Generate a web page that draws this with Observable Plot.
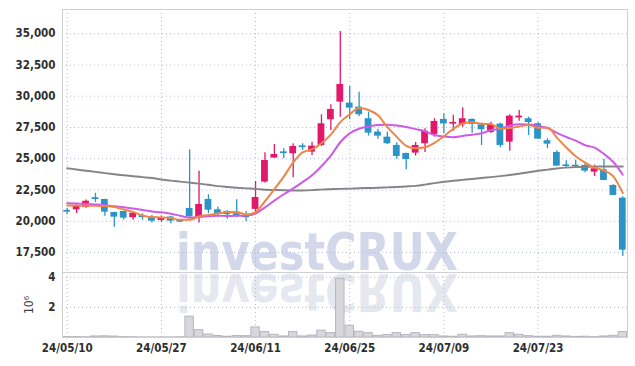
<!DOCTYPE html>
<html><head><meta charset="utf-8">
<script src="https://cdn.jsdelivr.net/npm/d3@7"></script>
<script src="https://cdn.jsdelivr.net/npm/@observablehq/plot@0.6"></script>
<style>
body{margin:0;background:#fff;}
#chart{position:relative;width:635px;height:366px;background:#fff;}
#chart svg{display:block;}
</style></head><body><div id="chart"></div>
<script>
const dates = ["24/05/10","24/05/13","24/05/14","24/05/16","24/05/17","24/05/20","24/05/21","24/05/22","24/05/23","24/05/24",
"24/05/27","24/05/28","24/05/29","24/05/30","24/05/31","24/06/03","24/06/04","24/06/05","24/06/07","24/06/10",
"24/06/11","24/06/12","24/06/13","24/06/14","24/06/17","24/06/18","24/06/19","24/06/20","24/06/21","24/06/24",
"24/06/25","24/06/26","24/06/27","24/06/28","24/07/01","24/07/02","24/07/03","24/07/04","24/07/05","24/07/08",
"24/07/09","24/07/10","24/07/11","24/07/12","24/07/15","24/07/16","24/07/17","24/07/18","24/07/19","24/07/22",
"24/07/23","24/07/24","24/07/25","24/07/26","24/07/29","24/07/30","24/07/31","24/08/01","24/08/02","24/08/05"];
const open = [20870,20910,21100,21880,21740,20700,20785,20280,20440,20340,
20065,20340,20120,21025,20280,21745,20915,20785,20600,20460,
20950,23130,25050,25550,25400,26030,25530,26065,28120,29530,
29450,29130,28200,27130,26730,26065,25425,25450,26200,26945,
28145,27770,27720,28145,27720,27105,27770,26330,28270,28200,
27800,26440,25505,24510,24480,24465,23930,24120,22865,21850];
const high = [21050,21340,21700,22240,21760,20720,20800,20730,20600,20460,
20425,20380,20150,25720,24010,22120,21130,20850,21720,20785,
23180,25480,26140,25800,26200,26200,26330,28520,29320,35185,
30785,30330,28730,27370,27130,26280,25450,26300,27400,28200,
28600,28480,29080,28200,27850,27930,27850,28520,28865,28330,
27880,26600,25640,24840,24890,24600,24490,24970,22920,21960];
const low = [20550,20620,21040,21500,20400,19530,20100,20090,20080,19870,
19930,19800,19880,20225,19860,20600,20360,20170,20300,19985,
20700,23060,25050,25000,23480,25670,25265,25980,27265,28330,
28120,28385,26810,26570,26140,24970,24120,25210,25500,26730,
27020,27200,27530,27040,26065,27020,25880,25610,28010,26865,
26540,25800,24410,24250,24220,23880,23585,23250,22065,17185];
const close = [20730,21200,21600,21740,20730,20330,20250,20640,20300,20010,
20265,20010,19930,20360,21345,20890,20540,20520,20440,20280,
21900,24860,25340,25410,25985,25890,26010,27800,28945,30945,
29050,28520,27050,26810,26200,25185,24945,26065,27210,27985,
27785,27910,28200,27745,27320,27720,26065,28410,28410,27900,
26570,26170,24410,24380,24350,24010,24200,23265,22065,17690];
// volume in millions of shares
const volume = [0.03,0.03,0.02,0.07,0.08,0.06,0.03,0.02,0.01,0.01,
0.01,0.01,0.02,1.38,0.49,0.20,0.10,0.05,0.10,0.09,
0.67,0.36,0.18,0.07,0.36,0.07,0.13,0.45,0.29,3.89,
0.78,0.38,0.29,0.11,0.16,0.29,0.16,0.29,0.16,0.16,
0.07,0.05,0.18,0.07,0.09,0.07,0.07,0.29,0.18,0.09,
0.05,0.05,0.11,0.07,0.04,0.05,0.03,0.07,0.11,0.36];
const ma5 = [21260,21250,21240,21230,21226,21132,20942,20750,20464,20320,
20307,20259,20117,20115,20382,20507,20613,20731,20747,20534,
20736,21600,22564,23570,24711,25517,25747,26239,26934,27926,
28550,29052,28902,28475,27526,26753,26038,25841,25921,26278,
26798,27390,27817,27924,27791,27778,27410,27452,27585,27701,
27471,27492,26692,25894,25194,24682,24288,24059,23588,22246];
const ma10 = [21440,21420,21390,21350,21290,21210,21120,21020,20900,20773,
20720,20601,20434,20290,20351,20407,20436,20424,20431,20458,
20622,21107,21648,22159,22623,23127,23674,24402,25252,26319,
27034,27400,27571,27705,27726,27652,27545,27372,27198,26902,
26776,26714,26829,26923,27035,27288,27400,27635,27755,27746,
27625,27451,27072,26740,26448,26077,25890,25376,24741,23720];
const maLong = [24240,24140,24040,23950,23850,23760,23680,23600,23530,23460,
23340,23250,23170,23090,23010,22920,22810,22740,22680,22630,
22590,22520,22500,22480,22470,22470,22490,22530,22560,22590,
22610,22640,22660,22680,22710,22740,22780,22830,22930,23050,
23160,23240,23310,23380,23460,23530,23610,23700,23800,23920,
24040,24130,24220,24290,24330,24350,24370,24380,24390,24390];
const xTicks = [0,10,20,30,40,50];
const priceTicks = [17500,20000,22500,25000,27500,30000,32500,35000];
const volTicks = [2,4];
const watermark = "investCRUX";

const UP = "#e2186a", DOWN = "#2b93c6";
const FONT = "'DejaVu Sans Condensed','DejaVu Sans',sans-serif";
const idx = d3.range(dates.length);
const rows = idx.map(i => ({i, o: open[i], h: high[i], l: low[i], c: close[i], up: close[i] >= open[i]}));
const xDom = [-0.5, dates.length - 0.5];
const gridStyle = {stroke: "#b4b9d4", strokeOpacity: 1, strokeDasharray: "1,3", strokeWidth: 1};
const style = {fontFamily: FONT, fontSize: "11.5px", fontWeight: "bold", color: "#2e2e2e", background: "transparent", overflow: "visible"};

const price = Plot.plot({
  width: 635, height: 272,
  marginLeft: 62, marginRight: 8, marginTop: 9, marginBottom: 0,
  style,
  x: {type: "linear", domain: xDom, axis: null},
  y: {domain: [15900, 36940]},
  marks: [
    Plot.gridY(priceTicks, gridStyle),
    Plot.gridX(xTicks, gridStyle),
    Plot.axisY(priceTicks, {tickSize: 0, tickPadding: 7, tickFormat: d3.format(","), label: null}),
    Plot.frame({stroke: "#cfcfd4"}),
    Plot.ruleX(rows, {x: "i", y1: "l", y2: "h", stroke: d => d.up ? UP : DOWN, strokeWidth: 1.3}),
    Plot.rect(rows, {x1: d => d.i - 0.36, x2: d => d.i + 0.36, y1: "o", y2: "c", fill: d => d.up ? UP : DOWN}),
    Plot.line(idx, {x: i => i, y: i => maLong[i], stroke: "#858585", strokeWidth: 2, curve: "monotone-x"}),
    Plot.line(idx, {x: i => i, y: i => ma10[i], stroke: "#cc5be6", strokeWidth: 2, curve: "monotone-x"}),
    Plot.line(idx, {x: i => i, y: i => ma5[i], stroke: "#ee8648", strokeWidth: 2, curve: "monotone-x"})
  ]
});

const vol = Plot.plot({
  width: 635, height: 94,
  marginLeft: 62, marginRight: 8, marginTop: 0, marginBottom: 29,
  style,
  x: {type: "linear", domain: xDom},
  y: {domain: [0, 4.31]},
  marks: [
    Plot.gridY(volTicks, gridStyle),
    Plot.gridX(xTicks, gridStyle),
    Plot.rectY(idx, {x1: i => i - 0.45, x2: i => i + 0.45, y: i => volume[i], fill: "#d7d7dc", stroke: "#b6b6be", strokeWidth: 1}),
    Plot.axisY(volTicks, {tickSize: 0, tickPadding: 7, label: null}),
    Plot.axisX(xTicks, {tickSize: 0, tickPadding: 6, tickFormat: i => dates[i], label: null}),
    Plot.text(["10\u2076"], {frameAnchor: "left", dx: -33, rotate: -90, textAnchor: "middle", fontWeight: "normal", fill: "#444", fontSize: 12}),
    Plot.frame({stroke: "#cfcfd4"})
  ]
});

function addMark(svg, y, flip, fill) {
  const ns = "http://www.w3.org/2000/svg";
  const t = document.createElementNS(ns, "text");
  t.textContent = watermark;
  t.setAttribute("x", 176);
  t.setAttribute("y", flip ? -y : y);
  t.setAttribute("text-anchor", "start");
  t.setAttribute("textLength", 282);
  t.setAttribute("lengthAdjust", "spacingAndGlyphs");
  t.setAttribute("font-family", FONT);
  t.setAttribute("font-weight", "bold");
  t.setAttribute("font-size", 51);
  t.setAttribute("fill", fill);
  if (flip) t.setAttribute("transform", "scale(1,-1)");
  const first = svg.querySelector("g");
  svg.insertBefore(t, first);
}
addMark(price, 270, false, "#d2d7ea");
addMark(vol, 2, true, "#e6e8f0");

const root = document.getElementById("chart");
root.appendChild(price);
root.appendChild(vol);
</script></body></html>
